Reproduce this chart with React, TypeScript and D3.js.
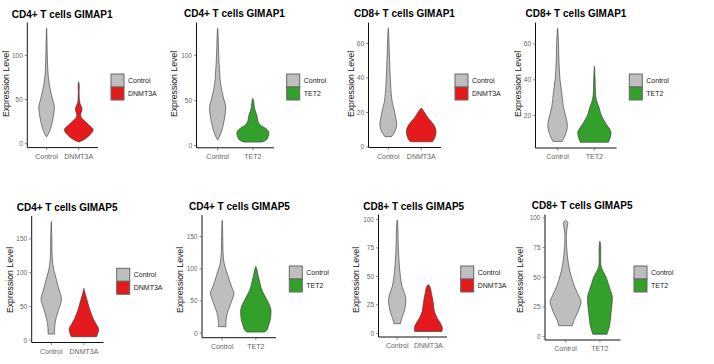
import React from "react";
import * as d3 from "d3";

// violin profiles: [expression level, relative half-width]
const cd4Gimap1Control = [[8, 0.02], [11, 0.12], [17, 0.28], [25, 0.4], [33, 0.49], [42, 0.54], [50, 0.42], [58, 0.3], [67, 0.19], [76, 0.12], [86, 0.08], [100, 0.05], [115, 0.03], [131, 0.01]];
const cd4Gimap1Dnmt3a = [[2, 0.04], [5, 0.4], [10, 0.78], [16, 1.0], [21, 0.72], [26, 0.4], [30, 0.17], [34, 0.14], [38, 0.23], [42, 0.19], [46, 0.08], [52, 0.04], [60, 0.03], [66, 0.04], [70, 0.01]];
const cd4Gimap1ControlB = [[6.6, 0.03], [10, 0.12], [17, 0.27], [25, 0.38], [34, 0.47], [43, 0.51], [52, 0.38], [62, 0.25], [71, 0.17], [81, 0.13], [99, 0.07], [118, 0.04], [130, 0.01]];
const cd4Gimap1Tet2 = [[3.7, 0.55], [6, 0.85], [10, 0.97], [15, 1.0], [19, 0.8], [23, 0.45], [27, 0.32], [31, 0.28], [34, 0.24], [38, 0.16], [42, 0.1], [46, 0.07], [50, 0.05], [52, 0.01]];
const cd8Gimap1Control = [[6, 0.22], [9, 0.45], [13, 0.57], [17, 0.5], [21, 0.41], [26, 0.27], [31, 0.2], [36, 0.16], [45, 0.11], [55, 0.07], [63, 0.04], [68.8, 0.01]];
const cd8Gimap1Dnmt3a = [[3, 0.75], [5, 0.9], [9, 1.0], [12, 0.9], [15, 0.65], [17, 0.45], [19, 0.3], [21, 0.15], [22.4, 0.02]];
const cd8Gimap1ControlB = [[5.7, 0.28], [9, 0.45], [14, 0.59], [19, 0.51], [25, 0.35], [33, 0.25], [40, 0.15], [51, 0.08], [62, 0.05], [68.7, 0.01]];
const cd8Gimap1Tet2 = [[5.2, 0.85], [8, 0.96], [11, 1.0], [14, 0.82], [16, 0.67], [20.5, 0.41], [25, 0.27], [27, 0.18], [31, 0.08], [38, 0.05], [43, 0.03], [47.4, 0.01]];
const cd4Gimap5Control = [[9, 0.22], [15, 0.22], [25, 0.26], [35, 0.36], [45, 0.5], [55, 0.65], [62, 0.7], [70, 0.6], [80, 0.46], [90, 0.35], [100, 0.22], [110, 0.12], [125, 0.06], [150, 0.04], [175.5, 0.01]];
const cd4Gimap5Dnmt3a = [[5, 0.85], [10, 0.95], [17, 1.0], [25, 0.8], [32, 0.63], [40, 0.49], [48, 0.36], [55, 0.27], [62, 0.18], [68, 0.1], [72, 0.05], [76.5, 0.01]];
const cd4Gimap5ControlB = [[10, 0.25], [17, 0.25], [27, 0.3], [37, 0.42], [47, 0.58], [56, 0.72], [62, 0.78], [70, 0.66], [80, 0.5], [90, 0.37], [100, 0.23], [110, 0.12], [125, 0.06], [150, 0.04], [175, 0.01]];
const cd4Gimap5Tet2 = [[1.5, 0.6], [5, 0.75], [10, 0.82], [20, 0.95], [30, 1.0], [36, 1.0], [44, 0.9], [52, 0.73], [60, 0.55], [67, 0.4], [75, 0.3], [83, 0.22], [90, 0.15], [98, 0.08], [103.5, 0.01]];
const cd8Gimap5Control = [[8.5, 0.23], [12, 0.3], [18, 0.47], [24, 0.58], [29.5, 0.62], [35, 0.53], [41, 0.35], [50, 0.23], [62, 0.14], [76, 0.08], [88, 0.06], [95, 0.04], [99.4, 0.01]];
const cd8Gimap5Dnmt3a = [[1.7, 0.97], [5, 1.0], [9, 0.86], [13, 0.65], [18, 0.47], [22, 0.4], [27, 0.35], [35, 0.23], [41, 0.12], [42.6, 0.01]];
const cd8Gimap5ControlB = [[9.2, 0.44], [14, 0.55], [19.6, 0.76], [25, 0.92], [29.5, 1.0], [35, 0.83], [42, 0.59], [47.6, 0.44], [56, 0.26], [64.5, 0.15], [75, 0.07], [86, 0.05], [92, 0.1], [96, 0.14], [98, 0.01]];
const cd8Gimap5Tet2 = [[2, 0.46], [8.5, 0.61], [19.6, 0.72], [33.6, 0.8], [39, 0.68], [44.8, 0.54], [50.5, 0.39], [54.7, 0.22], [59, 0.08], [67, 0.05], [76, 0.05], [80.3, 0.01]];

const ticks100 = [0, 50, 100];
const ticks60 = [0, 20, 40, 60];
const ticks60NoZero = [20, 40, 60];
const ticks150 = [0, 50, 100, 150];
const ticks25 = [0, 25, 50, 75, 100];

const fills: Record<string, string> = { Control: "#BEBEBE", DNMT3A: "#E41A1C", TET2: "#33A02C" };

const panels = [
  { title: "CD4+ T cells GIMAP1", mutant: "DNMT3A", ctrl: cd4Gimap1Control, mut: cd4Gimap1Dnmt3a, ticks: ticks100,
    box: [27.3, 98, 22.6, 147.6], titleX: 11.7, titleY: 14, yTitleX: 5.5, yTitleY: 84, legend: [111, 74] },
  { title: "CD4+ T cells GIMAP1", mutant: "TET2", ctrl: cd4Gimap1ControlB, mut: cd4Gimap1Tet2, ticks: ticks100,
    box: [196.5, 274, 22.6, 147.8], titleX: 184, titleY: 13.5, yTitleX: 174, yTitleY: 84, legend: [286.7, 74] },
  { title: "CD8+ T cells GIMAP1", mutant: "DNMT3A", ctrl: cd8Gimap1Control, mut: cd8Gimap1Dnmt3a, ticks: ticks60,
    box: [368.5, 441, 22.6, 147.5], titleX: 354, titleY: 13.5, yTitleX: 351, yTitleY: 84, legend: [455, 74] },
  { title: "CD8+ T cells GIMAP1", mutant: "TET2", ctrl: cd8Gimap1ControlB, mut: cd8Gimap1Tet2, ticks: ticks60NoZero,
    box: [535.5, 616.5, 22.6, 148], titleX: 525.5, titleY: 13.5, yTitleX: 518, yTitleY: 84, legend: [629.3, 74] },
  { title: "CD4+ T cells GIMAP5", mutant: "DNMT3A", ctrl: cd4Gimap5Control, mut: cd4Gimap5Dnmt3a, ticks: ticks150,
    box: [31.7, 103.5, 216, 342.5], titleX: 16.7, titleY: 207, yTitleX: 9.7, yTitleY: 280, legend: [116.7, 268.3] },
  { title: "CD4+ T cells GIMAP5", mutant: "TET2", ctrl: cd4Gimap5ControlB, mut: cd4Gimap5Tet2, ticks: ticks150,
    box: [202, 276, 215, 337.7], titleX: 189, titleY: 206.7, yTitleX: 179.7, yTitleY: 280, legend: [289.3, 266] },
  { title: "CD8+ T cells GIMAP5", mutant: "DNMT3A", ctrl: cd8Gimap5Control, mut: cd8Gimap5Dnmt3a, ticks: ticks25,
    box: [378.5, 447, 214.5, 337], titleX: 363.3, titleY: 206, yTitleX: 355.5, yTitleY: 280, legend: [460.7, 266] },
  { title: "CD8+ T cells GIMAP5", mutant: "TET2", ctrl: cd8Gimap5ControlB, mut: cd8Gimap5Tet2, ticks: ticks25,
    box: [545, 620.5, 214.5, 340], titleX: 531.7, titleY: 205, yTitleX: 520, yTitleY: 280, legend: [634, 266] },
];

const font = "Liberation Sans, Arial, sans-serif";

function Panel({ p }: { p: (typeof panels)[number] }) {
  const [x0, x1, y0, y1] = p.box;
  const cats = ["Control", p.mutant];
  const x = d3.scalePoint().domain(cats).range([x0, x1]).padding(0.6);
  const vals = [...p.ctrl, ...p.mut].map((d) => d[0]);
  const [mn, mx] = d3.extent(vals) as [number, number];
  const pad = (mx - mn) * 0.05;
  const y = d3.scaleLinear().domain([mn - pad, mx + pad]).range([y1, y0]);
  const w = d3.scaleLinear().domain([0, 1]).range([0, x.step() * 0.45]);

  const violin = (cx: number, data: number[][]) =>
    d3
      .area<number[]>()
      .y((d) => y(d[0]))
      .x0((d) => cx - w(d[1]))
      .x1((d) => cx + w(d[1]))
      .curve(d3.curveCatmullRom.alpha(0.5))(data) || "";

  const key = 13;
  const [lx, ly] = p.legend;

  return (
    <g fontFamily={font}>
      <text x={p.titleX} y={p.titleY} dominantBaseline="central" fontSize={10} fontWeight="bold" fill="#000">
        {p.title}
      </text>
      <text
        transform={`translate(${p.yTitleX},${p.yTitleY}) rotate(-90)`}
        textAnchor="middle"
        dominantBaseline="central"
        fontSize={8.7}
        fill="#111"
      >
        Expression Level
      </text>
      <path d={violin(x("Control")!, p.ctrl)} fill={fills.Control} stroke="#333" strokeWidth={0.6} />
      <path d={violin(x(p.mutant)!, p.mut)} fill={fills[p.mutant]} stroke="#333" strokeWidth={0.6} />
      <line x1={x0} x2={x0} y1={y0} y2={y1} stroke="#111" strokeWidth={1} />
      <line x1={x0} x2={x1} y1={y1} y2={y1} stroke="#111" strokeWidth={1} />
      {p.ticks.map((t) => (
        <g key={t}>
          <line x1={x0 - 2.5} x2={x0} y1={y(t)} y2={y(t)} stroke="#555" strokeWidth={0.7} />
          <text x={x0 - 4.5} y={y(t)} textAnchor="end" dominantBaseline="central" fontSize={6.5} fill="#666">
            {t}
          </text>
        </g>
      ))}
      {cats.map((c) => (
        <g key={c}>
          <line x1={x(c)} x2={x(c)} y1={y1} y2={y1 + 2.5} stroke="#555" strokeWidth={0.7} />
          <text x={x(c)} y={y1 + 8.5} textAnchor="middle" dominantBaseline="central" fontSize={7} fill="#666">
            {c}
          </text>
        </g>
      ))}
      {cats.map((c, i) => (
        <g key={"l" + c}>
          <rect x={lx} y={ly + i * key} width={key} height={key} fill={fills[c]} stroke="#666" strokeWidth={1} />
          <text x={lx + key + 4} y={ly + i * key + key / 2} dominantBaseline="central" fontSize={7} fill="#222">
            {c}
          </text>
        </g>
      ))}
    </g>
  );
}

export default function App() {
  return (
    <svg width={714} height={364} style={{ position: "absolute", left: 0, top: 0, background: "#fff" }}>
      <rect width={714} height={364} fill="#fff" />
      {panels.map((p, i) => (
        <Panel key={i} p={p} />
      ))}
    </svg>
  );
}
